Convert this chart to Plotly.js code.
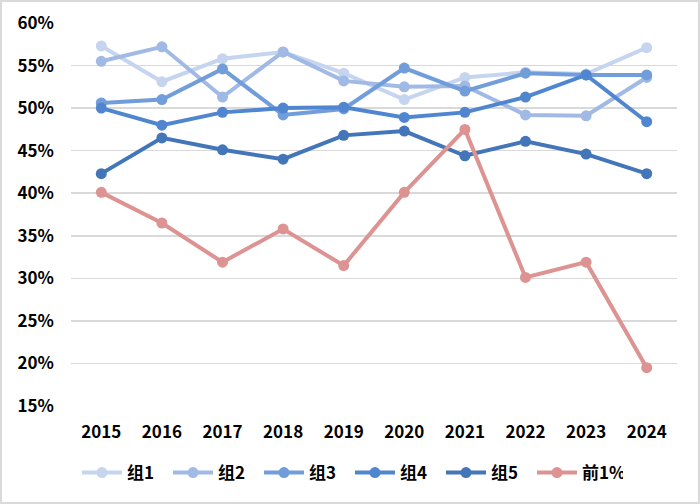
<!DOCTYPE html>
<html>
<head>
<meta charset="utf-8">
<script src="https://cdn.plot.ly/plotly-3.0.1.min.js"></script>
<style>
html,body{margin:0;padding:0;background:#fff;}
#chart{width:700px;height:504px;box-sizing:border-box;border:2px solid #d9d9d9;}
</style>
</head>
<body>
<div id="chart"></div>
<script>
const years = ["2015","2016","2017","2018","2019","2020","2021","2022","2023","2024"];
const group1 = [57.3, 53.1, 55.8, 56.6, 54.1, 51.0, 53.6, 54.2, 54.0, 57.1];
const group2 = [55.5, 57.2, 51.3, 56.6, 53.2, 52.5, 52.6, 49.2, 49.1, 53.6];
const group3 = [50.6, 51.0, 54.6, 49.2, 49.9, 54.7, 52.0, 54.1, 53.9, 53.9];
const group4 = [50.0, 48.0, 49.5, 50.0, 50.1, 48.9, 49.5, 51.3, 53.9, 48.4];
const group5 = [42.3, 46.5, 45.1, 44.0, 46.8, 47.3, 44.4, 46.1, 44.6, 42.3];
const top1 = [40.1, 36.5, 31.9, 35.8, 31.5, 40.1, 47.5, 30.1, 31.9, 19.5];
const names = ["组1","组2","组3","组4","组5","前1%"];
const series = [group1, group2, group3, group4, group5, top1];
const colors = ["#c5d4ef","#a1b9e5","#729ddb","#5086cf","#4375b9","#dc9391"];
const yTicks = [15,20,25,30,35,40,45,50,55,60];

const traces = series.map((s,i)=>({
  x: years, y: s.map(v=>v/100), name: names[i], type:"scatter", mode:"lines+markers",
  line:{color:colors[i], width:4}, marker:{color:colors[i], size:11}
}));

const layout = {
  width:696, height:500,
  margin:{l:69, r:21, t:21, b:96},
  paper_bgcolor:"#fff", plot_bgcolor:"#fff",
  font:{family:"Noto Sans CJK SC, Open Sans, sans-serif", color:"#000", size:17, weight:700},
  xaxis:{type:"category", showgrid:false, zeroline:false, showline:false, ticks:"",
         tickfont:{size:17, weight:700}, range:[-0.5,9.5], ticklabelstandoff:14},
  yaxis:{range:[0.15,0.6], tickvals:yTicks.map(v=>v/100), ticktext:yTicks.map(v=>v+"%"),
         showgrid:true, gridcolor:"#d9d9d9", gridwidth:1.5, zeroline:false, showline:false,
         ticks:"", tickfont:{size:17, weight:700}, ticklabelstandoff:16},
  showlegend:true,
  legend:{orientation:"h", x:0.5, xref:"container", xanchor:"center",
          y:0.058, yref:"container", yanchor:"middle",
          font:{size:17, weight:700}, itemwidth:40, entrywidth:36, entrywidthmode:"pixels", tracegroupgap:0}
};
Plotly.newPlot("chart", traces, layout, {displayModeBar:false, staticPlot:true});
</script>
</body>
</html>
